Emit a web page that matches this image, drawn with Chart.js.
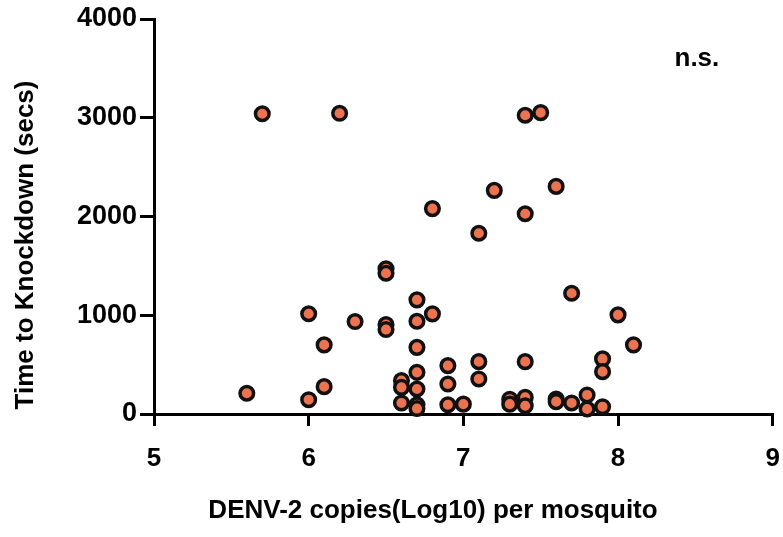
<!DOCTYPE html>
<html>
<head>
<meta charset="utf-8">
<script src="https://cdn.jsdelivr.net/npm/chart.js@4.4.0/dist/chart.umd.min.js"></script>
<style>
  html, body { margin: 0; padding: 0; background: #fff; }
  #wrap { width: 783px; height: 537px; }
</style>
</head>
<body>
<div id="wrap"><canvas id="myChart" width="783" height="537"></canvas></div>
<script>
// DENV-2 copies (log10) per mosquito
let copies = [5.6, 5.7, 6.0, 6.0, 6.1, 6.1, 6.2, 6.3, 6.5, 6.5, 6.5, 6.5, 6.6, 6.6, 6.6,
    6.7, 6.7, 6.7, 6.7, 6.7, 6.7, 6.7, 6.8, 6.8, 6.9, 6.9, 6.9, 7.0, 7.1, 7.1, 7.1, 7.2,
    7.3, 7.3, 7.4, 7.4, 7.4, 7.4, 7.4, 7.5, 7.6, 7.6, 7.6, 7.7, 7.7, 7.8, 7.8, 7.9, 7.9,
    7.9, 8.0, 8.1];
// time to knockdown (secs)
let knockdown = [210, 3040, 1015, 145, 700, 277, 3045, 936, 1470, 1425, 905, 855, 338, 270, 112,
    1156, 939, 675, 422, 253, 94, 55, 2080, 1014, 490, 304, 94, 100, 1830, 530, 355, 2265,
    150, 100, 3025, 2028, 530, 168, 84, 3052, 2305, 152, 125, 1223, 112, 193, 51, 558, 429,
    74, 1004, 700];
let xTicks = [5, 6, 7, 8, 9];
let yTicks = [0, 1000, 2000, 3000, 4000];
let xTitle = "DENV-2 copies(Log10) per mosquito";
let yTitle = "Time to Knockdown (secs)";
let sigLabel = "n.s.";

let fam = '"Liberation Sans", Arial, Helvetica, sans-serif';
let points = copies.map((c, i) => ({ x: c, y: knockdown[i] }));

// axis titles + n.s. drawn by hand so they sit where the original has them
let textPlugin = {
    id: 'textPlugin',
    afterDraw(chart) {
        let ctx = chart.ctx;
        ctx.save();
        ctx.fillStyle = '#000';
        ctx.font = 'bold 26px ' + fam;
        ctx.textAlign = 'center';
        ctx.textBaseline = 'alphabetic';
        ctx.fillText(xTitle, 433, 518);
        ctx.save();
        ctx.translate(33, 245);
        ctx.rotate(-Math.PI / 2);
        ctx.fillText(yTitle, 0, 0);
        ctx.restore();
        ctx.fillText(sigLabel, chart.scales.x.getPixelForValue(8.51), 66);
        ctx.restore();
    }
};

let ctx = document.getElementById('myChart').getContext('2d');
let chart = new Chart(ctx, {
    type: 'scatter',
    data: {
        datasets: [{
            data: points,
            backgroundColor: '#EB7350',
            borderColor: '#111',
            borderWidth: 3.5,
            pointRadius: 6.8,
            clip: false
        }]
    },
    options: {
        responsive: false,
        animation: false,
        layout: { padding: { left: 0, right: 8, top: 19, bottom: 0 } },
        plugins: { legend: { display: false }, tooltip: { enabled: false } },
        scales: {
            x: {
                type: 'linear',
                min: 5,
                max: 9,
                afterBuildTicks: (s) => { s.ticks = xTicks.map(v => ({ value: v })); },
                afterFit: (s) => { s.height = 123; s.paddingRight = 0; s.paddingLeft = 0; },
                border: { display: true, color: '#000', width: 3 },
                grid: { display: true, drawOnChartArea: false, drawTicks: true, tickLength: 12, lineWidth: 3, color: '#000' },
                ticks: { color: '#000', padding: 17, font: { family: fam, size: 26, weight: 'bold' }, maxRotation: 0,
                    callback: (v) => String(v) }
            },
            y: {
                type: 'linear',
                min: 0,
                max: 4000,
                afterBuildTicks: (s) => { s.ticks = yTicks.map(v => ({ value: v })); },
                afterFit: (s) => { s.width = 154; s.paddingTop = 0; s.paddingBottom = 0; },
                border: { display: true, color: '#000', width: 3 },
                grid: { display: true, drawOnChartArea: false, drawTicks: true, tickLength: 14, lineWidth: 3, color: '#000' },
                ticks: { color: '#000', padding: 3, font: { family: fam, size: 27, weight: 'bold' },
                    callback: (v) => String(v) }
            }
        }
    },
    plugins: [textPlugin]
});
</script>
</body>
</html>
